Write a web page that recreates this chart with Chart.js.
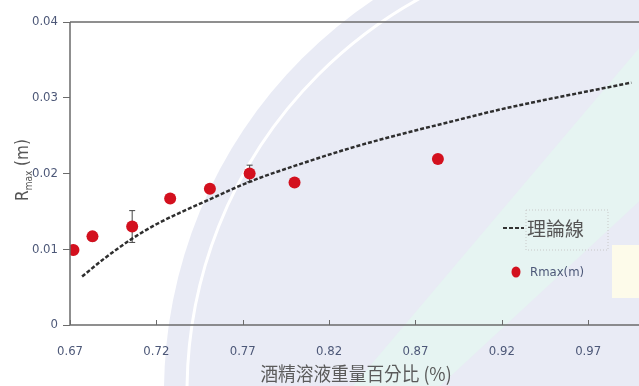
<!DOCTYPE html>
<html lang="zh-Hant">
<head>
<meta charset="UTF-8">
<title>Rmax vs alcohol concentration</title>
<script src="https://cdn.jsdelivr.net/npm/chart.js"></script>
<style>
  html, body { margin: 0; padding: 0; overflow: hidden; background: #fff; }
  #wrap { width: 646px; height: 386px; }
</style>
</head>
<body>
<div id="wrap"><canvas id="rmaxChart" width="646" height="386"></canvas></div>
<script>
// measured points
const xValues = [0.672, 0.683, 0.706, 0.728, 0.751, 0.774, 0.800, 0.883];
const rmaxValues = [0.0099, 0.0117, 0.0130, 0.0167, 0.0180, 0.0200, 0.0188, 0.0219];
const rmaxErrors = [0.0004, 0.0006, 0.0021, 0.0004, 0.0004, 0.0011, 0.0004, 0.0003];

// theory curve
const theoryX = [0.677, 0.69, 0.706, 0.72, 0.75, 0.775, 0.80, 0.833, 0.86, 0.888, 0.92, 0.995];
const theoryY = [0.0064, 0.0088, 0.0114, 0.0133, 0.0165, 0.0190, 0.0210, 0.0234, 0.0251, 0.0267, 0.0285, 0.0320];

const xTickValues = [0.67, 0.72, 0.77, 0.82, 0.87, 0.92, 0.97];
const xTickLabels = ['0.67', '0.72', '0.77', '0.82', '0.87', '0.92', '0.97'];
const yTickValues = [0, 0.01, 0.02, 0.03, 0.04];
const yTickLabels = ['0', '0.01', '0.02', '0.03', '0.04'];

const xTitle = '酒精溶液重量百分比 (%)';
const theoryLabel = '理論線';
const pointLabel = 'Rmax(m)';

const tickFont = "'Liberation Sans Narrow', 'DejaVu Sans Condensed', sans-serif";
const tickColor = '#4d5878';
const red = '#d3101e';

const background = {
    id: 'background',
    beforeDraw(chart) {
        const c = chart.ctx;
        c.save();
        c.fillStyle = '#ffffff';
        c.fillRect(0, 0, chart.width, chart.height);
        // faint watermark tint
        c.fillStyle = '#e9ebf5';
        c.beginPath();
        c.arc(636, 392, 472, 0, Math.PI * 2);
        c.fill();
        c.strokeStyle = '#ffffff';
        c.lineWidth = 3;
        c.beginPath();
        c.arc(636, 392, 449, 0, Math.PI * 2);
        c.stroke();
        c.fillStyle = '#e6f4f2';
        c.beginPath();
        c.moveTo(353, 386);
        c.lineTo(646, 40);
        c.lineTo(646, 195);
        c.lineTo(440, 386);
        c.closePath();
        c.fill();
        c.fillStyle = '#fdfbea';
        c.fillRect(612, 245, 34, 53);
        c.restore();
    }
};

const decorations = {
    id: 'decorations',
    beforeDatasetsDraw(chart) {
        const c = chart.ctx;
        const xs = chart.scales.x, ys = chart.scales.y;
        c.save();
        // error bars
        c.strokeStyle = '#444';
        c.lineWidth = 1;
        xValues.forEach((xv, i) => {
            const px = xs.getPixelForValue(xv);
            const top = ys.getPixelForValue(rmaxValues[i] + rmaxErrors[i]);
            const bot = ys.getPixelForValue(rmaxValues[i] - rmaxErrors[i]);
            c.beginPath();
            c.moveTo(px, top); c.lineTo(px, bot);
            c.moveTo(px - 3, top); c.lineTo(px + 3, top);
            c.moveTo(px - 3, bot); c.lineTo(px + 3, bot);
            c.stroke();
        });
        c.restore();
    },
    afterDraw(chart) {
        const c = chart.ctx;
        const area = chart.chartArea;
        const xs = chart.scales.x;
        c.save();
        // axes
        c.strokeStyle = '#6b6b6b';
        c.lineWidth = 1.5;
        c.beginPath();
        c.moveTo(area.left, area.top);
        c.lineTo(chart.width, area.top);
        c.moveTo(area.left, area.top);
        c.lineTo(area.left, area.bottom);
        c.lineTo(chart.width, area.bottom);
        c.stroke();
        // x tick marks point inward
        c.lineWidth = 1;
        xTickValues.forEach(v => {
            const px = Math.round(xs.getPixelForValue(v)) + 0.5;
            c.beginPath();
            c.moveTo(px, area.bottom);
            c.lineTo(px, area.bottom - 5);
            c.stroke();
        });

        // y title with subscript
        c.fillStyle = '#555';
        c.translate(24, 170);
        c.rotate(-Math.PI / 2);
        c.textBaseline = 'middle';
        c.font = "17px " + tickFont;
        const wR = c.measureText('R').width;
        c.font = "10px " + tickFont;
        const wSub = c.measureText('max').width;
        c.font = "17px " + tickFont;
        const wM = c.measureText(' (m)').width;
        let x0 = -(wR + wSub + wM) / 2;
        c.textAlign = 'left';
        c.fillText('R', x0, 0);
        c.font = "10px " + tickFont;
        c.fillText('max', x0 + wR, 5);
        c.font = "17px " + tickFont;
        c.fillText(' (m)', x0 + wR + wSub, 0);
        c.setTransform(1, 0, 0, 1, 0, 0);

        // x title
        c.fillStyle = '#5a5a5a';
        c.font = "19px 'Noto Sans CJK TC', sans-serif";
        c.textAlign = 'center';
        c.textBaseline = 'middle';
        c.save();
        c.translate(356, 374);
        c.scale(0.93, 1);
        c.fillText(xTitle, 0, 0);
        c.restore();

        // legend
        c.strokeStyle = '#c8c8c8';
        c.setLineDash([1, 2]);
        c.strokeRect(526, 210, 82, 40);
        c.strokeStyle = '#333';
        c.lineWidth = 2;
        c.setLineDash([4, 2]);
        c.beginPath();
        c.moveTo(503, 228);
        c.lineTo(524, 228);
        c.stroke();
        c.setLineDash([]);
        c.fillStyle = '#555';
        c.font = "19px 'Noto Sans CJK TC', sans-serif";
        c.textAlign = 'left';
        c.fillText(theoryLabel, 527, 229);
        c.fillStyle = red;
        c.beginPath();
        c.ellipse(516, 272, 4.5, 5.5, 0, 0, Math.PI * 2);
        c.fill();
        c.fillStyle = tickColor;
        c.font = "13px " + tickFont;
        c.fillText(pointLabel, 530, 273);
        c.restore();
    }
};

const ctx = document.getElementById('rmaxChart').getContext('2d');
const rmaxChart = new Chart(ctx, {
    type: 'scatter',
    data: {
        datasets: [{
            type: 'line',
            label: theoryLabel,
            data: theoryX.map((x, i) => ({ x: x, y: theoryY[i] })),
            borderColor: '#2e2e2e',
            borderWidth: 2.5,
            borderDash: [4, 2],
            pointRadius: 0,
            fill: false,
            cubicInterpolationMode: 'monotone'
        }, {
            label: pointLabel,
            data: xValues.map((x, i) => ({ x: x, y: rmaxValues[i] })),
            backgroundColor: red,
            borderWidth: 0,
            pointRadius: 6
        }]
    },
    options: {
        responsive: false,
        animation: false,
        layout: { padding: { top: 22, right: 2, left: 0, bottom: 0 } },
        plugins: { legend: { display: false }, tooltip: { enabled: false } },
        scales: {
            x: {
                type: 'linear',
                min: 0.67,
                max: 1.0,
                afterBuildTicks: axis => { axis.ticks = xTickValues.map(v => ({ value: v })); },
                afterFit: axis => { axis.height = 61; },
                grid: { display: false, drawTicks: false },
                border: { display: false },
                ticks: {
                    padding: 19,
                    maxRotation: 0,
                    color: tickColor,
                    font: { family: tickFont, size: 13 },
                    callback: (v) => xTickLabels[xTickValues.indexOf(v)]
                }
            },
            y: {
                min: 0,
                max: 0.04,
                afterBuildTicks: axis => { axis.ticks = yTickValues.map(v => ({ value: v })); },
                afterFit: axis => { axis.width = 70; },
                grid: { drawOnChartArea: false, tickLength: 7, color: '#6b6b6b' },
                border: { display: false },
                ticks: {
                    padding: 5,
                    color: tickColor,
                    font: { family: tickFont, size: 13 },
                    callback: (v) => yTickLabels[yTickValues.indexOf(v)]
                }
            }
        }
    },
    plugins: [background, decorations]
});
</script>
</body>
</html>
